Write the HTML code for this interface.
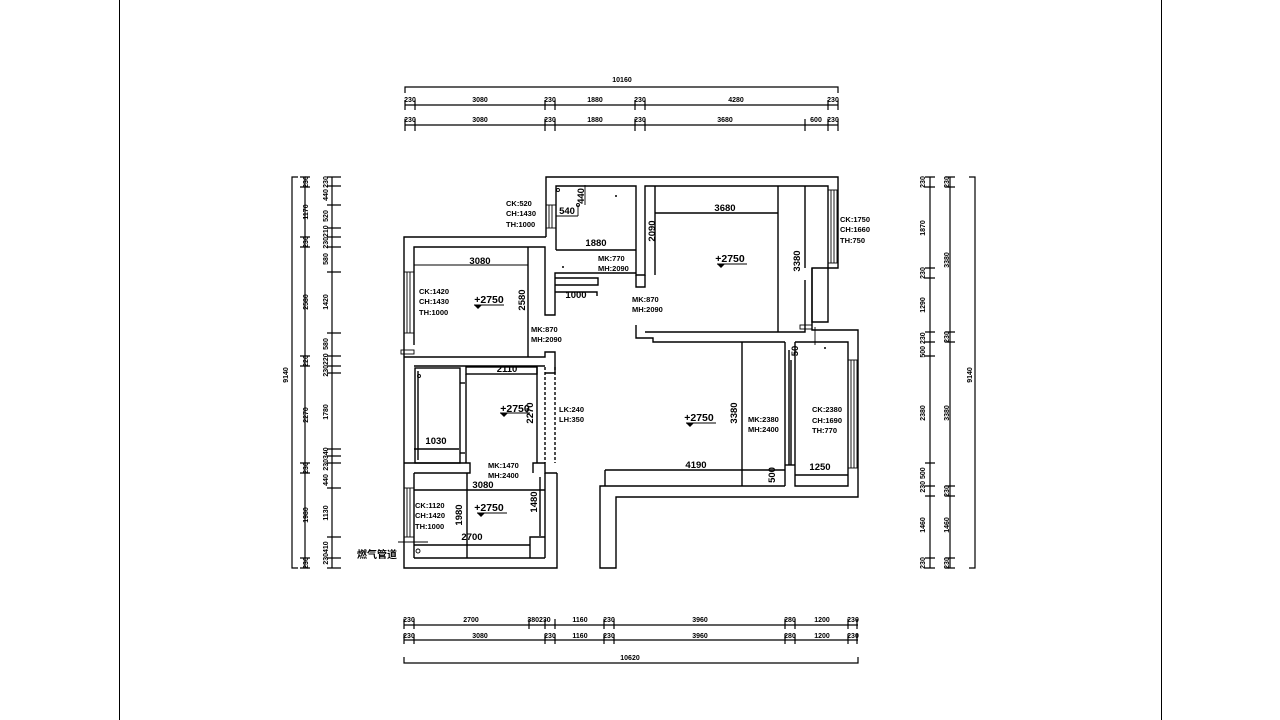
<!DOCTYPE html>
<html><head><meta charset="utf-8"><style>
html,body{margin:0;padding:0;background:#fff;}
svg{display:block}
text{font-family:"Liberation Sans","Noto Sans CJK SC",sans-serif;font-weight:bold;fill:#000}
.d{font-size:7px}
.n{font-size:9.5px}
.c{font-size:7.5px;font-family:"Liberation Mono","Noto Sans CJK SC",monospace}
.e{font-size:10.5px}
</style></head><body>
<svg width="1280" height="720" viewBox="0 0 1280 720" xmlns="http://www.w3.org/2000/svg">
<rect width="1280" height="720" fill="#fff"/>
<line x1="119.5" y1="0" x2="119.5" y2="720" stroke="#000"/>
<line x1="1161.5" y1="0" x2="1161.5" y2="720" stroke="#000"/>
<g stroke="#000" stroke-width="1.2" fill="none">
<polyline points="405,93 405,87 838,87 838,93"/>
<line x1="405" y1="105" x2="838" y2="105"/>
<line x1="405" y1="125" x2="838" y2="125"/>
<path d="M405,100v10M415,100v10M545,100v10M555,100v10M635,100v10M645,100v10M828,100v10M838,100v10"/>
<path d="M405,119v12M415,119v12M545,119v12M555,119v12M635,119v12M645,119v12M805,119v12M828,119v12M838,119v12"/>
<line x1="404" y1="625" x2="858" y2="625"/>
<line x1="404" y1="640" x2="858" y2="640"/>
<polyline points="404,657 404,663 858,663 858,657"/>
<path d="M404,619v10M414,619v10M529,619v10M545,619v10M555,619v10M604,619v10M614,619v10M785,619v10M795,619v10M848,619v10M857,619v10"/>
<path d="M404,634v10M414,634v10M545,634v10M555,634v10M604,634v10M614,634v10M785,634v10M795,634v10M848,634v10M857,634v10"/>
<polyline points="298,177 292,177 292,568 298,568"/>
<line x1="305" y1="177" x2="305" y2="568"/>
<line x1="332" y1="177" x2="332" y2="568"/>
<path d="M300,177h10M300,187h10M300,237h10M300,247h10M300,356h10M300,366h10M300,463h10M300,473h10M300,558h10M300,568h10"/>
<path d="M327,177h14M327,186h14M327,205h14M327,228h14M327,237h14M327,247h14M327,272h14M327,333h14M327,356h14M327,366h14M327,373h14M327,449h14M327,456h14M327,463h14M327,488h14M327,537h14M327,558h14M327,568h14"/>
<line x1="930" y1="177" x2="930" y2="568"/>
<line x1="950" y1="177" x2="950" y2="568"/>
<polyline points="969,177 975,177 975,568 969,568"/>
<path d="M925,177h10M925,187h10M925,268h10M925,278h10M925,332h10M925,342h10M925,356h10M925,463h10M925,486h10M925,496h10M925,558h10M925,568h10"/>
<path d="M945,177h10M945,187h10M945,332h10M945,342h10M945,486h10M945,496h10M945,558h10M945,568h10"/>
</g>
<g stroke="#000" stroke-width="1.4" fill="none">
<polyline points="546,237 546,177 838,177 838,268 812,268 812,330 858,330 858,497 616,497 616,568 600,568 600,486 605,486"/>
<polyline points="546,237 404,237 404,568 557,568 557,473"/>
<polyline points="556,250 556,186 636,186 636,275 645,275 645,186 828,186 828,268"/>
<polyline points="414,345 414,247 545,247 545,315 555,315 555,273 636,273"/>
<line x1="556" y1="250" x2="636" y2="250"/>
<polyline points="555,278 598,278 598,285 555,285"/>
<polyline points="555,292 597,292 597,296"/>
<polyline points="636,275 636,287 645,287 645,275"/>
<line x1="528" y1="247" x2="528" y2="357"/>
<line x1="655" y1="186" x2="655" y2="275"/>
<polyline points="636,325 636,338 653,338 653,342 785,342"/>
<polyline points="645,332 805,332 805,280"/>
<line x1="655" y1="213" x2="778" y2="213"/>
<line x1="778" y1="186" x2="778" y2="332"/>
<line x1="805" y1="186" x2="805" y2="268"/>
<polyline points="812,268 812,322 828,322 828,268"/>
<polyline points="404,357 545,357 545,352 555,352 555,373 545,373"/>
<line x1="414" y1="366" x2="545" y2="366"/>
<rect x="415" y="368" width="45" height="95"/>
<line x1="418" y1="371" x2="418" y2="460"/>
<line x1="414" y1="449" x2="459" y2="449"/>
<line x1="460" y1="383" x2="465" y2="383"/>
<line x1="460" y1="453" x2="465" y2="453"/>
<rect x="466" y="367" width="71" height="7"/>
<line x1="537" y1="367" x2="537" y2="463"/>
<line x1="466" y1="374" x2="466" y2="463"/>
<line x1="545" y1="367" x2="545" y2="463" stroke-dasharray="3,2"/>
<line x1="555" y1="367" x2="555" y2="463" stroke-dasharray="3,2"/>
<polyline points="404,463 470,463 470,473 414,473"/>
<polyline points="533,473 533,463 545,463 545,473 557,473"/>
<line x1="414" y1="473" x2="414" y2="558"/>
<line x1="414" y1="558" x2="545" y2="558"/>
<line x1="545" y1="473" x2="545" y2="558"/>
<line x1="540" y1="477" x2="540" y2="536"/>
<line x1="414" y1="545" x2="530" y2="545"/>
<polyline points="530,558 530,537 545,537"/>
<line x1="467" y1="473" x2="467" y2="558"/>
<line x1="414" y1="490" x2="545" y2="490"/>
<line x1="742" y1="342" x2="742" y2="486"/>
<line x1="605" y1="470" x2="785" y2="470"/>
<line x1="605" y1="486" x2="785" y2="486"/>
<line x1="605" y1="470" x2="605" y2="486"/>
<polyline points="785,342 785,486"/>
<polyline points="795,342 848,342 848,486 795,486 795,342"/>
<line x1="789" y1="350" x2="789" y2="465"/>
<line x1="791" y1="360" x2="791" y2="465"/>
<line x1="795" y1="475" x2="848" y2="475"/>
<line x1="785" y1="465" x2="795" y2="465"/>
</g>
<g stroke="#000" stroke-width="0.9" fill="none">
<rect x="546" y="205" width="10" height="23"/><line x1="549" y1="205" x2="549" y2="228"/><line x1="552" y1="205" x2="552" y2="228"/>
<rect x="404" y="272" width="10" height="61"/><line x1="407" y1="272" x2="407" y2="333"/><line x1="410" y1="272" x2="410" y2="333"/>
<rect x="828" y="190" width="9" height="73"/><line x1="831" y1="190" x2="831" y2="263"/><line x1="834" y1="190" x2="834" y2="263"/>
<rect x="848" y="360" width="9" height="108"/><line x1="851" y1="360" x2="851" y2="468"/><line x1="854" y1="360" x2="854" y2="468"/>
<rect x="404" y="488" width="10" height="49"/><line x1="407" y1="488" x2="407" y2="537"/><line x1="410" y1="488" x2="410" y2="537"/>
<rect x="401" y="350" width="13" height="4"/>
<rect x="800" y="325" width="12" height="4"/>
<line x1="815" y1="327" x2="815" y2="345"/>
<line x1="398" y1="542" x2="428" y2="542"/>
<circle cx="558" cy="190" r="1.5"/><circle cx="578" cy="205" r="1.5"/><circle cx="419" cy="376" r="1.5"/><circle cx="418" cy="551" r="2"/>
<line x1="585" y1="185" x2="585" y2="205"/>
<line x1="556" y1="216" x2="578" y2="216"/>
<line x1="578" y1="205" x2="578" y2="216"/>
<line x1="414" y1="265" x2="528" y2="265"/>
</g>
<circle cx="616" cy="196" r="1" fill="#000"/><circle cx="563" cy="267" r="1" fill="#000"/><circle cx="825" cy="348" r="1" fill="#000"/>
<g fill="#000">
<path d="M474,305h8l-4,4z"/><path d="M717,264h8l-4,4z"/><path d="M500,413h8l-4,4z"/><path d="M686,423h8l-4,4z"/><path d="M477,513h8l-4,4z"/>
</g>
<g stroke="#000" stroke-width="0.9">
<line x1="474" y1="305" x2="504" y2="305"/><line x1="717" y1="264" x2="747" y2="264"/><line x1="500" y1="413" x2="530" y2="413"/><line x1="686" y1="423" x2="716" y2="423"/><line x1="477" y1="513" x2="507" y2="513"/>
</g>
<g class="d" text-anchor="middle">
<text x="622" y="82">10160</text>
<text x="410" y="102">230</text><text x="480" y="102">3080</text><text x="550" y="102">230</text><text x="595" y="102">1880</text><text x="640" y="102">230</text><text x="736" y="102">4280</text><text x="833" y="102">230</text>
<text x="410" y="122">230</text><text x="480" y="122">3080</text><text x="550" y="122">230</text><text x="595" y="122">1880</text><text x="640" y="122">230</text><text x="725" y="122">3680</text><text x="816" y="122">600</text><text x="833" y="122">230</text>
<text x="409" y="622">230</text><text x="471" y="622">2700</text><text x="539" y="622">380230</text><text x="580" y="622">1160</text><text x="609" y="622">230</text><text x="700" y="622">3960</text><text x="790" y="622">280</text><text x="822" y="622">1200</text><text x="853" y="622">230</text>
<text x="409" y="638">230</text><text x="480" y="638">3080</text><text x="550" y="638">230</text><text x="580" y="638">1160</text><text x="609" y="638">230</text><text x="700" y="638">3960</text><text x="790" y="638">280</text><text x="822" y="638">1200</text><text x="853" y="638">230</text>
<text x="630" y="660">10620</text>
</g>
<g class="d" text-anchor="middle">
<text transform="translate(288,375) rotate(-90)">9140</text>
<text transform="translate(308,182) rotate(-90)">230</text><text transform="translate(308,212) rotate(-90)">1170</text><text transform="translate(308,242) rotate(-90)">230</text><text transform="translate(308,302) rotate(-90)">2580</text><text transform="translate(308,361) rotate(-90)">220</text><text transform="translate(308,415) rotate(-90)">2270</text><text transform="translate(308,468) rotate(-90)">230</text><text transform="translate(308,515) rotate(-90)">1980</text><text transform="translate(308,563) rotate(-90)">230</text>
<text transform="translate(328,182) rotate(-90)">230</text><text transform="translate(328,195) rotate(-90)">440</text><text transform="translate(328,216) rotate(-90)">520</text><text transform="translate(328,237) rotate(-90)">230210</text><text transform="translate(328,259) rotate(-90)">580</text><text transform="translate(328,302) rotate(-90)">1420</text><text transform="translate(328,344) rotate(-90)">580</text><text transform="translate(328,365) rotate(-90)">230220</text><text transform="translate(328,412) rotate(-90)">1780</text><text transform="translate(328,459) rotate(-90)">230340</text><text transform="translate(328,480) rotate(-90)">440</text><text transform="translate(328,513) rotate(-90)">1130</text><text transform="translate(328,553) rotate(-90)">230410</text>
<text transform="translate(925,182) rotate(-90)">230</text><text transform="translate(925,228) rotate(-90)">1870</text><text transform="translate(925,273) rotate(-90)">230</text><text transform="translate(925,305) rotate(-90)">1290</text><text transform="translate(925,345) rotate(-90)">500 230</text><text transform="translate(925,413) rotate(-90)">2380</text><text transform="translate(925,480) rotate(-90)">230 500</text><text transform="translate(925,525) rotate(-90)">1460</text><text transform="translate(925,563) rotate(-90)">230</text>
<text transform="translate(949,182) rotate(-90)">230</text><text transform="translate(949,260) rotate(-90)">3380</text><text transform="translate(949,337) rotate(-90)">230</text><text transform="translate(949,413) rotate(-90)">3380</text><text transform="translate(949,491) rotate(-90)">230</text><text transform="translate(949,525) rotate(-90)">1460</text><text transform="translate(949,563) rotate(-90)">230</text>
<text transform="translate(972,375) rotate(-90)">9140</text>
</g>
<g class="n" text-anchor="middle">
<text x="480" y="264">3080</text><text x="596" y="246">1880</text><text x="725" y="211">3680</text><text x="567" y="214">540</text><text x="576" y="298">1000</text>
<text x="507" y="372">2110</text><text x="436" y="444">1030</text><text x="483" y="488">3080</text><text x="472" y="540">2700</text><text x="696" y="468">4190</text><text x="820" y="470">1250</text>
<text transform="translate(525,300) rotate(-90)">2580</text><text transform="translate(655,231) rotate(-90)">2090</text><text transform="translate(800,261) rotate(-90)">3380</text><text transform="translate(584,196) rotate(-90)">440</text>
<text transform="translate(533,413) rotate(-90)">2270</text><text transform="translate(737,413) rotate(-90)">3380</text><text transform="translate(462,515) rotate(-90)">1980</text><text transform="translate(537,502) rotate(-90)">1480</text><text transform="translate(775,475) rotate(-90)">500</text><text transform="translate(798,351) rotate(-90)">50</text>
</g>
<g class="e" text-anchor="middle">
<text x="489" y="303">+2750</text><text x="730" y="262">+2750</text><text x="515" y="412">+2750</text><text x="699" y="421">+2750</text><text x="489" y="511">+2750</text>
</g>
<g class="c">
<text x="506" y="206">CK:520</text><text x="506" y="216">CH:1430</text><text x="506" y="227">TH:1000</text>
<text x="598" y="261">MK:770</text><text x="598" y="271">MH:2090</text>
<text x="419" y="294">CK:1420</text><text x="419" y="304">CH:1430</text><text x="419" y="315">TH:1000</text>
<text x="632" y="302">MK:870</text><text x="632" y="312">MH:2090</text>
<text x="531" y="332">MK:870</text><text x="531" y="342">MH:2090</text>
<text x="840" y="222">CK:1750</text><text x="840" y="232">CH:1660</text><text x="840" y="243">TH:750</text>
<text x="559" y="412">LK:240</text><text x="559" y="422">LH:350</text>
<text x="748" y="422">MK:2380</text><text x="748" y="432">MH:2400</text>
<text x="812" y="412">CK:2380</text><text x="812" y="423">CH:1690</text><text x="812" y="433">TH:770</text>
<text x="488" y="468">MK:1470</text><text x="488" y="478">MH:2400</text>
<text x="415" y="508">CK:1120</text><text x="415" y="518">CH:1420</text><text x="415" y="529">TH:1000</text>
</g>
<text x="357" y="558" style="font-size:10px">燃气管道</text>
</svg>
</body></html>
